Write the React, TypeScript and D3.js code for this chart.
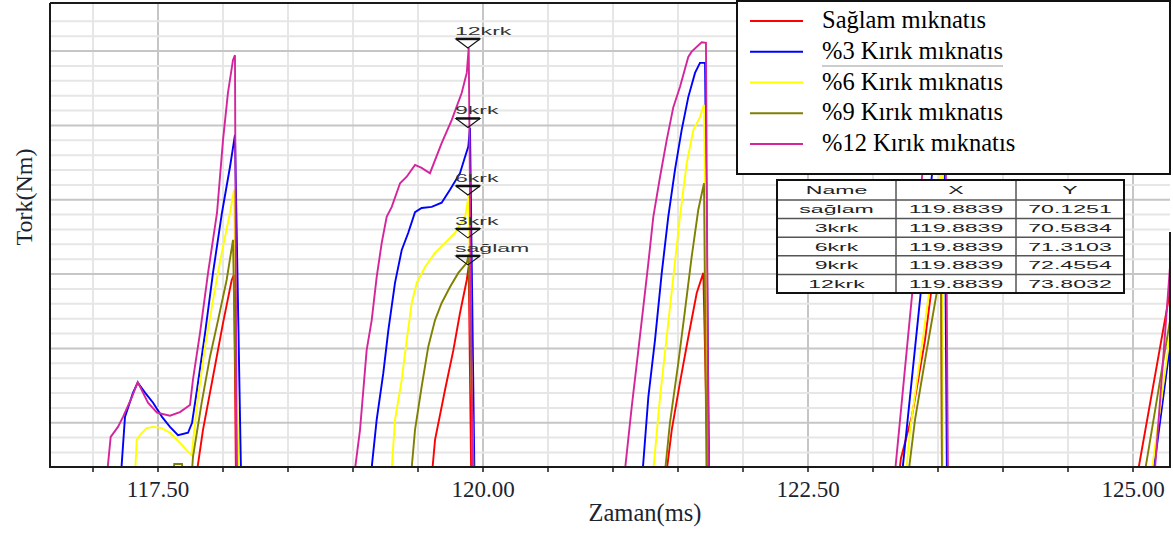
import React, { useEffect, useRef } from 'react';
import * as d3 from 'd3';

type Pt = [number, number];

// zaman (ms), tork (Nm)
const saglam: Pt[] = [
  [117.785, 66.4], [117.846, 67.33], [117.923, 68.23], [118.0, 69.14], [118.067, 69.87], [118.085, 69.96], [118.1, 66.4],
  [119.6, 66.4], [119.631, 67.16], [119.708, 68.01], [119.772, 68.68], [119.823, 69.31], [119.875, 69.87], [119.89, 70.1], [119.91, 66.4],
  [121.4, 66.4], [121.452, 67.33], [121.515, 68.13], [121.579, 68.9], [121.644, 69.65], [121.695, 69.99], [121.73, 66.4],
  [123.19, 66.4], [123.215, 66.85], [123.3, 67.57], [123.4, 68.85], [123.446, 69.65], [123.523, 70.89], [123.531, 66.4],
  [125.02, 66.4], [125.259, 69.36], [125.3, 69.87],
];

const krk3: Pt[] = [
  [117.21, 66.4], [117.246, 67.55], [117.308, 67.96], [117.344, 68.13], [117.4, 67.96], [117.462, 67.79], [117.531, 67.55],
  [117.592, 67.38], [117.654, 67.24], [117.731, 67.28], [117.762, 67.45], [117.8, 68.01], [117.862, 68.97], [117.923, 69.99],
  [117.992, 71.01], [118.054, 71.79], [118.092, 72.33], [118.14, 66.4],
  [119.13, 66.4], [119.182, 67.5], [119.233, 68.29], [119.272, 69.02], [119.323, 69.82], [119.375, 70.38], [119.425, 70.67],
  [119.477, 71.02], [119.528, 71.09], [119.605, 71.11], [119.682, 71.18], [119.746, 71.4], [119.823, 71.68], [119.862, 71.96],
  [119.887, 72.13], [119.9, 72.45], [119.935, 66.4],
  [121.22, 66.4], [121.272, 67.89], [121.323, 68.85], [121.375, 69.99], [121.425, 70.94], [121.477, 71.74], [121.528, 72.41],
  [121.579, 72.97], [121.631, 73.38], [121.669, 73.55], [121.708, 73.55], [121.74, 66.4],
  [123.215, 66.4], [123.367, 69.65], [123.452, 71.62], [123.546, 73.51], [123.569, 66.4],
  [125.145, 66.4], [125.3, 69.02],
];

const krk6: Pt[] = [
  [117.32, 66.4], [117.336, 67.16], [117.375, 67.28], [117.413, 67.36], [117.462, 67.38], [117.528, 67.36], [117.592, 67.28],
  [117.669, 67.11], [117.731, 66.96], [117.759, 66.9], [117.798, 67.72], [117.862, 68.74], [117.923, 69.53], [117.99, 70.33],
  [118.054, 71.01], [118.085, 71.4], [118.12, 66.4],
  [119.29, 66.4], [119.323, 67.5], [119.375, 68.18], [119.413, 68.85], [119.452, 69.48], [119.49, 69.82], [119.554, 70.09],
  [119.631, 70.33], [119.708, 70.5], [119.785, 70.67], [119.862, 70.94], [119.89, 71.3], [119.925, 66.4],
  [121.3, 66.4], [121.362, 67.89], [121.413, 68.9], [121.464, 69.92], [121.515, 70.94], [121.567, 71.85], [121.618, 72.41],
  [121.669, 72.63], [121.7, 72.84], [121.735, 66.4],
  [123.246, 66.4], [123.285, 67.33], [123.361, 68.51], [123.431, 69.65], [123.515, 71.62], [123.531, 72.24], [123.538, 66.4],
  [125.13, 66.4], [125.3, 69.19],
];

const krk9: Pt[] = [
  [117.61, 66.4], [117.625, 66.75], [117.685, 66.75], [117.7, 66.4],
  [117.754, 66.4], [117.769, 66.87], [117.836, 67.79], [117.9, 68.57], [117.962, 69.19], [118.028, 69.87], [118.077, 70.55], [118.11, 66.4],
  [119.44, 66.4], [119.477, 67.33], [119.528, 68.06], [119.579, 68.74], [119.631, 69.19], [119.682, 69.48], [119.746, 69.75],
  [119.81, 69.99], [119.875, 70.16], [119.89, 70.3], [119.93, 66.4],
  [121.39, 66.4], [121.438, 67.45], [121.502, 68.46], [121.554, 69.36], [121.605, 70.26], [121.656, 71.06], [121.7, 71.51], [121.72, 66.4],
  [123.262, 66.4], [123.323, 67.5], [123.4, 68.51], [123.49, 69.65], [123.523, 70.38], [123.531, 66.4],
  [125.075, 66.4], [125.285, 69.19],
];

const krk12: Pt[] = [
  [117.1, 66.4], [117.136, 67.21], [117.192, 67.38], [117.231, 67.55], [117.3, 67.89], [117.344, 68.14], [117.423, 67.79],
  [117.492, 67.62], [117.592, 67.57], [117.669, 67.63], [117.746, 67.75], [117.769, 68.18], [117.823, 68.97], [117.885, 69.99],
  [117.954, 71.01], [118.0, 72.24], [118.038, 73.04], [118.077, 73.6], [118.092, 73.68], [118.105, 66.4],
  [119.0, 66.4], [119.054, 67.33], [119.105, 68.68], [119.144, 69.19], [119.182, 69.92], [119.221, 70.5], [119.259, 70.94],
  [119.298, 71.11], [119.362, 71.51], [119.413, 71.62], [119.477, 71.82], [119.528, 71.77], [119.592, 71.68], [119.682, 72.19],
  [119.759, 72.58], [119.836, 73.04], [119.875, 73.38], [119.89, 73.8], [119.92, 66.4],
  [121.08, 66.4], [121.144, 67.72], [121.195, 68.68], [121.233, 69.41], [121.272, 70.16], [121.31, 70.94], [121.362, 71.62],
  [121.413, 72.24], [121.464, 72.8], [121.515, 73.14], [121.579, 73.65], [121.605, 73.74], [121.682, 73.9], [121.715, 73.89], [121.735, 66.4],
  [123.16, 66.4], [123.302, 69.65], [123.377, 71.62], [123.477, 73.26], [123.554, 73.77], [123.577, 66.4],
  [125.16, 66.4], [125.3, 70.55],
];

const seriesData = [saglam, krk3, krk6, krk9, krk12];
const seriesNames = ['Sağlam mıknatıs', '%3 Kırık mıknatıs', '%6 Kırık mıknatıs', '%9 Kırık mıknatıs', '%12 Kırık mıknatıs'];
const seriesColors = ['#ff0000', '#0000ff', '#ffff00', '#808000', '#d4259c'];

const xTicks = [117, 117.5, 118, 118.5, 119, 119.5, 120, 120.5, 121, 121.5, 122, 122.5, 123, 123.5, 124, 124.5, 125];
const xLabelTicks = [117.5, 120, 122.5, 125];
const xLabels = ['117.50', '120.00', '122.50', '125.00'];

// imlec (cursor) tablosu
const cursorNames = ['sağlam', '3krk', '6krk', '9krk', '12krk'];
const cursorX = [119.8839, 119.8839, 119.8839, 119.8839, 119.8839];
const cursorY = [70.1251, 70.5834, 71.3103, 72.4554, 73.8032];

const W = 1173, H = 533;
const left = 50, right = 1170, top = 3, bottom = 467;
const serif = "'Liberation Serif', 'Times New Roman', serif";
const sans = "'Liberation Sans', Arial, sans-serif";

export default function App() {
  const ref = useRef<SVGSVGElement>(null);

  useEffect(() => {
    const svg = d3.select(ref.current);
    svg.selectAll('*').remove();

    const x = d3.scaleLinear().domain([116.6692, 125.2846]).range([left, right]);
    const y = d3.scaleLinear().domain([66.7, 74.565]).range([bottom, top]);

    svg.append('rect').attr('width', W).attr('height', H).attr('fill', '#fff');

    svg.append('defs').append('clipPath').attr('id', 'plotclip')
      .append('rect').attr('x', left).attr('y', top).attr('width', right - left).attr('height', bottom - top);

    // grid
    const grid = svg.append('g');
    const isMajorX = (d: number) => Math.abs((d - 117.5) / 2.5 - Math.round((d - 117.5) / 2.5)) < 1e-6;
    grid.selectAll('line.xg').data(xTicks).enter().append('line')
      .attr('x1', d => x(d)).attr('x2', d => x(d))
      .attr('y1', top).attr('y2', bottom)
      .attr('stroke', d => isMajorX(d) ? '#c6c6c6' : '#e6e6e6')
      .attr('stroke-width', 2);

    const yGrid = d3.range(1, 32).map(i => 66.694 + i * 0.252).filter(v => v < 74.5);
    grid.selectAll('line.yg').data(yGrid).enter().append('line')
      .attr('x1', left).attr('x2', right)
      .attr('y1', d => y(d)).attr('y2', d => y(d))
      .attr('stroke', (d, i) => ((i + 1) - 3) % 5 === 0 ? '#c6c6c6' : '#e6e6e6')
      .attr('stroke-width', 2);

    // series
    const line = d3.line<Pt>().x(d => x(d[0])).y(d => y(d[1]));
    const lines = svg.append('g').attr('clip-path', 'url(#plotclip)');
    seriesData.forEach((s, i) => {
      lines.append('path').attr('d', line(s) as string)
        .attr('fill', 'none').attr('stroke', seriesColors[i])
        .attr('stroke-width', 1.9).attr('stroke-linejoin', 'miter');
    });

    // frame
    const frame = svg.append('g').attr('stroke', '#1a1a1a').attr('stroke-width', 2);
    frame.append('line').attr('x1', left).attr('x2', left).attr('y1', top).attr('y2', bottom);
    frame.append('line').attr('x1', left).attr('x2', right).attr('y1', top).attr('y2', top);
    frame.append('line').attr('x1', left - 1).attr('x2', right + 1).attr('y1', bottom).attr('y2', bottom);
    frame.append('line').attr('x1', right).attr('x2', right).attr('y1', 232).attr('y2', bottom);

    // x ticks
    svg.append('g').selectAll('line').data(xTicks).enter().append('line')
      .attr('x1', d => x(d)).attr('x2', d => x(d))
      .attr('y1', bottom).attr('y2', bottom + 5)
      .attr('stroke', '#1a1a1a').attr('stroke-width', 1.5);
    svg.append('g').selectAll('text').data(xLabelTicks).enter().append('text')
      .attr('x', d => x(d)).attr('y', 497)
      .attr('text-anchor', 'middle')
      .attr('font-family', serif).attr('font-size', 23).attr('fill', '#1b2430')
      .text((d, i) => xLabels[i]);

    svg.append('text').attr('x', 645).attr('y', 521)
      .attr('text-anchor', 'middle').attr('font-family', serif).attr('font-size', 24.5).attr('fill', '#1b2430')
      .text('Zaman(ms)');
    svg.append('text').attr('transform', 'translate(32,197) rotate(-90)')
      .attr('text-anchor', 'middle').attr('font-family', serif).attr('font-size', 24).attr('fill', '#1b2430')
      .text('Tork(Nm)');

    // cursor markers
    const mk = svg.append('g');
    cursorY.forEach((v, i) => {
      const cx = x(cursorX[i]);
      const cy = y(v);
      mk.append('path')
        .attr('d', `M${cx - 12},${cy - 9}L${cx + 12},${cy - 9}L${cx},${cy}Z`)
        .attr('fill', 'none').attr('stroke', '#111').attr('stroke-width', 1.1);
      mk.append('line').attr('x1', cx - 12).attr('x2', cx + 12).attr('y1', cy - 9).attr('y2', cy - 9)
        .attr('stroke', '#111').attr('stroke-width', 2.5);
      mk.append('text')
        .attr('transform', `translate(${cx - 13},${cy - 13}) scale(2.1,1)`)
        .attr('font-family', sans).attr('font-size', 11).attr('fill', '#333')
        .text(cursorNames[i]);
    });

    // legend
    const lg = svg.append('g');
    lg.append('rect').attr('x', 737).attr('y', 1).attr('width', 433).attr('height', 173)
      .attr('fill', '#fff').attr('stroke', '#111').attr('stroke-width', 2);
    seriesNames.forEach((name, i) => {
      const ry = 21 + i * 30.75;
      lg.append('line').attr('x1', 750).attr('x2', 803).attr('y1', ry).attr('y2', ry)
        .attr('stroke', seriesColors[i]).attr('stroke-width', 2);
      lg.append('text').attr('x', 822).attr('y', ry + 7)
        .attr('font-family', serif).attr('font-size', 24.5).attr('fill', '#000')
        .text(name);
    });
    lg.append('line').attr('x1', 822).attr('x2', 1003).attr('y1', 66).attr('y2', 66)
      .attr('stroke', '#999').attr('stroke-width', 1);

    // cursor table
    const tb = svg.append('g');
    const tx0 = 777, tx1 = 896, tx2 = 1016, tx3 = 1124;
    const ty0 = 180, th = 20, rh = 18.6;
    const ty1 = ty0 + th + rh * cursorNames.length;
    tb.append('rect').attr('x', tx0).attr('y', ty0).attr('width', tx3 - tx0).attr('height', ty1 - ty0)
      .attr('fill', '#fff');
    [tx1, tx2].forEach(cx => {
      tb.append('line').attr('x1', cx).attr('x2', cx).attr('y1', ty0).attr('y2', ty1)
        .attr('stroke', '#555').attr('stroke-width', 1.5);
    });
    d3.range(cursorNames.length).forEach(r => {
      const ly = ty0 + th + r * rh;
      tb.append('line').attr('x1', tx0).attr('x2', tx3).attr('y1', ly).attr('y2', ly)
        .attr('stroke', '#555').attr('stroke-width', 1.5);
    });
    tb.append('rect').attr('x', tx0).attr('y', ty0).attr('width', tx3 - tx0).attr('height', ty1 - ty0)
      .attr('fill', 'none').attr('stroke', '#111').attr('stroke-width', 2);

    const colC = [(tx0 + tx1) / 2, (tx1 + tx2) / 2, (tx2 + tx3) / 2];
    const cell = (cx: number, cy: number, s: string) => {
      tb.append('text')
        .attr('transform', `translate(${cx},${cy + 4}) scale(2.1,1)`)
        .attr('text-anchor', 'middle')
        .attr('font-family', sans).attr('font-size', 11).attr('fill', '#222')
        .text(s);
    };
    ['Name', 'X', 'Y'].forEach((h, c) => cell(colC[c], ty0 + th / 2, h));
    cursorNames.forEach((n, r) => {
      const cy = ty0 + th + r * rh + rh / 2;
      cell(colC[0], cy, n);
      cell(colC[1], cy, cursorX[r].toFixed(4));
      cell(colC[2], cy, cursorY[r].toFixed(4));
    });
  }, []);

  return (
    <svg ref={ref} width={W} height={H} style={{ position: 'absolute', left: 0, top: 0 }} />
  );
}
